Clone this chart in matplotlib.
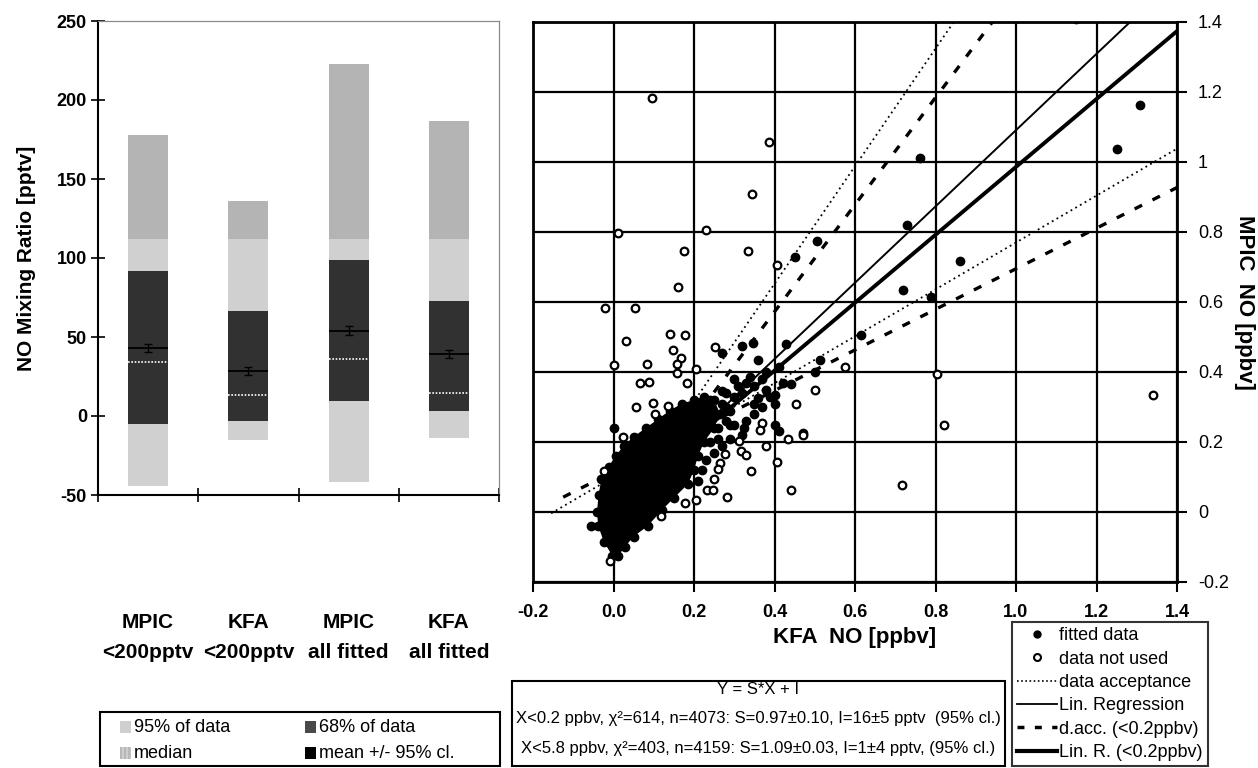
import numpy as np
import matplotlib
matplotlib.use('Agg')
import matplotlib.pyplot as plt
from matplotlib.patches import Rectangle
from matplotlib.lines import Line2D

plt.rcParams['font.family'] = ['Liberation Sans', 'DejaVu Sans']
plt.rcParams['axes.unicode_minus'] = False
NARROW = ['Liberation Sans Narrow', 'Liberation Sans', 'DejaVu Sans']

# ---- left panel: NO distributions (pptv) ----
groups = ['MPIC\n<200pptv', 'KFA\n<200pptv', 'MPIC\nall fitted', 'KFA\nall fitted']
p95_lo = [-44, -15, -42, -14]
p95_hi = [178, 136, 223, 187]
p68_lo = [-5, -3, 9.5, 3]
p68_hi = [92, 66.5, 99, 72.5]
means = [43, 28.5, 54, 39.5]
mean_ci = [2.5, 2.5, 3, 2.5]
medians = [34, 13, 36, 14.5]

# ---- right panel: scatter MPIC vs KFA NO (ppbv) ----
fitted_x = [1.308, 1.251, 0.762, 0.729, 0.505, 0.451, 0.861, 0.72, 0.79, 0.614,
            0.514, 0.428, 0.346, 0.32, -0.056, 0.0, 0.50, 0.44, 0.42, 0.41,
            0.38, 0.36, 0.27, 0.34, 0.30, 0.40, 0.36, 0.31, 0.27, 0.40,
            0.325, 0.40, 0.41, 0.47, 0.29, 1.15,
            0.24, 0.25, 0.27, 0.28, 0.29, 0.30, 0.32, 0.33, 0.35, 0.37,
            0.38, 0.39, 0.26, 0.28, 0.30, 0.32, 0.29, 0.27, 0.25, 0.23,
            0.22, 0.24, 0.26, 0.33, 0.35, 0.37, 0.21, 0.23, 0.35, 0.28]
fitted_y = [1.163, 1.038, 1.011, 0.82, 0.775, 0.728, 0.716, 0.635, 0.615, 0.505,
            0.434, 0.481, 0.484, 0.475, -0.039, 0.241, 0.40, 0.365, 0.37, 0.415,
            0.40, 0.435, 0.455, 0.385, 0.38, 0.335, 0.327, 0.36, 0.346, 0.308,
            0.241, 0.25, 0.231, 0.227, 0.25, 1.41,
            0.32, 0.28, 0.31, 0.34, 0.29, 0.33, 0.34, 0.37, 0.36, 0.38,
            0.35, 0.33, 0.24, 0.26, 0.25, 0.22, 0.21, 0.19, 0.17, 0.15,
            0.12, 0.20, 0.21, 0.26, 0.28, 0.30, 0.09, 0.24, 0.31, 0.30]

# outline of the dense core of fitted points (several thousand points)
core_x = [-0.003, -0.024, -0.038, -0.041, -0.037, -0.030, -0.012, 0.005, 0.026, 0.05,
          0.08, 0.11, 0.14, 0.17, 0.20, 0.225, 0.25, 0.265, 0.25, 0.225,
          0.21, 0.20, 0.185, 0.15, 0.12, 0.085, 0.05, 0.028, 0.012]
core_y = [-0.125, -0.085, -0.04, 0.0, 0.05, 0.095, 0.13, 0.16, 0.19, 0.215,
          0.24, 0.265, 0.29, 0.31, 0.32, 0.33, 0.32, 0.28, 0.24, 0.20,
          0.16, 0.12, 0.08, 0.04, 0.005, -0.04, -0.07, -0.10, -0.125]

unused_x = [0.096, 0.386, 0.343, 0.229, 0.012, 0.176, 0.334, 0.405, 0.161, -0.02,
            0.053, 0.14, 0.178, 0.031, 0.253, 0.148, 0.168, 0.157, 0.0, 0.084,
            0.157, 0.205, 0.065, 0.0875, 0.1825, 0.056, 0.0975, 0.136, 0.103, 0.574,
            0.501, 0.453, 0.369, 0.364, 0.434, 0.38, 0.472, 0.312, 0.3175, 0.328,
            0.2775, 0.264, 0.26, 0.249, 0.3425, 0.2325, 0.247, 0.282, 0.205, 0.178,
            0.44, 0.7175, 0.024, -0.0075, -0.024, 1.34, 0.804, 0.822, 0.405, 0.118]
unused_y = [1.183, 1.056, 0.908, 0.805, 0.797, 0.746, 0.746, 0.706, 0.643, 0.584,
            0.584, 0.51, 0.505, 0.489, 0.472, 0.463, 0.44, 0.422, 0.42, 0.422,
            0.396, 0.41, 0.368, 0.372, 0.370, 0.30, 0.312, 0.303, 0.279, 0.415,
            0.35, 0.31, 0.253, 0.234, 0.21, 0.19, 0.22, 0.203, 0.174, 0.163,
            0.165, 0.141, 0.122, 0.095, 0.117, 0.063, 0.063, 0.044, 0.034, 0.025,
            0.063, 0.076, 0.215, -0.14, 0.117, 0.335, 0.393, 0.25, 0.143, -0.012]

# fits: Y = S*X + I (ppbv), with x start of each drawn line
acc_upper = (1.68, -0.02, 0.12)
acc_lower = (0.67, 0.10, -0.155)
dacc_upper = (1.53, -0.04, 0.16)
dacc_lower = (0.58, 0.115, -0.125)
reg_all = (1.09, 0.001, 0.0)
reg_low = (0.97, 0.016, 0.0)

x_ticks = [-0.2, 0.0, 0.2, 0.4, 0.6, 0.8, 1.0, 1.2, 1.4]
x_tick_labels = ['-0.2', '0.0', '0.2', '0.4', '0.6', '0.8', '1.0', '1.2', '1.4']
y_tick_labels = ['-0.2', '0', '0.2', '0.4', '0.6', '0.8', '1', '1.2', '1.4']

W, H = 1258, 768
fig = plt.figure(figsize=(12.58, 7.68), dpi=100)


def fx(px):
    return px / W


def fy(py):
    return 1 - py / H


# ================= left panel =================
ax1 = fig.add_axes([fx(98), fy(495), 401 / W, 474 / H])
xc = np.arange(len(groups)) + 0.5
lo95 = np.array(p95_lo)
hi95 = np.array(p95_hi)
ax1.bar(xc, hi95 - lo95, bottom=lo95, width=0.4, color='#d0d0d0', zorder=1)
shade_from = 112
ax1.bar(xc, hi95 - shade_from, bottom=shade_from, width=0.4, color='#b4b4b4', zorder=1)
lo68 = np.array(p68_lo)
hi68 = np.array(p68_hi)
ax1.bar(xc, hi68 - lo68, bottom=lo68, width=0.4, color='#313131', zorder=2)
ax1.hlines(medians, xc - 0.2, xc + 0.2, colors='white', linestyles=(0, (1, 1)), lw=1.2, zorder=3)
ax1.hlines(means, xc - 0.2, xc + 0.2, colors='black', lw=1.3, zorder=3)
ax1.errorbar(xc, means, yerr=mean_ci, fmt='none', ecolor='black', capsize=3, lw=1, zorder=4)

ax1.set_xlim(0, 4)
ax1.set_ylim(-50, 250)
ax1.set_yticks(np.arange(-50, 251, 50))
ax1.set_xticks([0, 1, 2, 3, 4])
ax1.set_xticklabels([])
ax1.tick_params(axis='both', direction='inout', length=10, width=1.2)
ax1.tick_params(axis='y', labelsize=13, pad=3)
for lab in ax1.get_yticklabels():
    lab.set_fontweight('bold')
ax1.spines['left'].set_linewidth(1.5)
ax1.spines['bottom'].set_linewidth(1.5)
for s in ['top', 'right']:
    ax1.spines[s].set_color('#8a8a8a')
    ax1.spines[s].set_linewidth(0.9)
ax1.set_ylabel('NO Mixing Ratio [pptv]', fontsize=15, fontweight='bold')
ax1.yaxis.set_label_coords(-0.155, 0.5)
for x, g in zip(xc, groups):
    ax1.text(x, -0.25, g, transform=ax1.get_xaxis_transform(), ha='center', va='top',
             fontsize=15, fontweight='bold', linespacing=1.7)

# left legend, drawn as a framed box
fig.patches.append(Rectangle((fx(100), fy(766)), 400 / W, 54 / H, transform=fig.transFigure,
                             fill=False, ec='black', lw=1.5))
leg1_items = [('95% of data', '#cfcfcf', 120, 727), ('median', '#b8b8b8', 120, 753),
              ('68% of data', '#4a4a4a', 305, 727), ('mean +/- 95% cl.', 'black', 305, 753)]
for lab, col, px, py in leg1_items:
    hatch = '||||' if lab == 'median' else None
    fig.patches.append(Rectangle((fx(px), fy(py + 6)), 11 / W, 12 / H, transform=fig.transFigure,
                                 fc=col, ec='#d8d8d8' if hatch else 'none', hatch=hatch, lw=0))
    fig.text(fx(px + 14), fy(py), lab, ha='left', va='center', fontsize=13)

# ================= right panel =================
ax2 = fig.add_axes([fx(533), fy(582), 644 / W, 560 / H])
ax2.set_xlim(-0.2, 1.4)
ax2.set_ylim(-0.2, 1.4)
ax2.set_xticks(x_ticks)
ax2.set_xticklabels(x_tick_labels, fontsize=13, fontweight='bold')
ax2.set_yticks(x_ticks)
ax2.set_yticklabels(y_tick_labels, fontsize=13)
ax2.yaxis.tick_right()
ax2.tick_params(axis='x', direction='out', length=7, width=1.5, pad=9)
ax2.tick_params(axis='y', direction='out', length=7, width=1.5, pad=8)
ax2.grid(True, color='black', lw=1.6, zorder=0.5)
ax2.set_axisbelow(True)
for s in ax2.spines.values():
    s.set_linewidth(2)

ax2.fill(core_x, core_y, color='black', lw=0, zorder=3)
ax2.plot(core_x, core_y, 'o', color='black', ms=6, zorder=3)
ax2.plot(fitted_x, fitted_y, 'o', color='black', ms=6, zorder=3)
ax2.plot(unused_x, unused_y, 'o', mfc='white', mec='black', mew=1.6, ms=5.5, zorder=3)


def fit_line(p, style, lw):
    xs = np.array([p[2], 1.6])
    ax2.plot(xs, p[0] * xs + p[1], color='black', ls=style, lw=lw, zorder=4)


fit_line(acc_upper, (0, (1, 2)), 1.3)
fit_line(acc_lower, (0, (1, 2)), 1.3)
fit_line(dacc_upper, (0, (2.5, 3.5)), 2.4)
fit_line(dacc_lower, (0, (2.5, 3.5)), 2.4)
fit_line(reg_all, '-', 1.4)
fit_line(reg_low, '-', 2.8)

ax2.set_xlabel('KFA  NO [ppbv]', fontsize=16, fontweight='bold', labelpad=4)
fig.text(fx(1245), fy(302), 'MPIC  NO [ppbv]', rotation=270, ha='center',
         va='center', fontsize=16, fontweight='bold')

# fit results box
fig.patches.append(Rectangle((fx(512), fy(766)), 493 / W, 85 / H,
                             transform=fig.transFigure, fill=False, ec='black', lw=1.5))
fit_lines = ['Y = S*X + I',
             'X<0.2 ppbv, χ²=614, n=4073: S=0.97±0.10, I=16±5 pptv  (95% cl.)',
             'X<5.8 ppbv, χ²=403, n=4159: S=1.09±0.03, I=1±4 pptv, (95% cl.)']
for yy, t in zip([690, 719, 748], fit_lines):
    fig.text(fx(758), fy(yy), t, ha='center', va='center', family=NARROW, fontsize=12)

leg2_handles = [Line2D([], [], ls='none', marker='o', color='black', ms=5),
                Line2D([], [], ls='none', marker='o', mfc='white', mec='black', mew=1.5, ms=5),
                Line2D([], [], color='black', ls=(0, (1, 1.5)), lw=1.2),
                Line2D([], [], color='black', ls='-', lw=1.3),
                Line2D([], [], color='black', ls=(0, (2, 3)), lw=2.5),
                Line2D([], [], color='black', ls='-', lw=3)]
leg2_labels = ['fitted data', 'data not used', 'data acceptance', 'Lin. Regression',
               'd.acc. (<0.2ppbv)', 'Lin. R. (<0.2ppbv)']
leg2 = fig.legend(leg2_handles, leg2_labels, loc='upper left',
                  bbox_to_anchor=(fx(1012), fy(622)), fancybox=False,
                  edgecolor='black', handlelength=2.2, handletextpad=0.1,
                  borderaxespad=0, labelspacing=0.35, borderpad=0.3,
                  prop={'family': NARROW, 'size': 13})
leg2.get_frame().set_linewidth(1.5)

fig.savefig('out.png', dpi=100)
